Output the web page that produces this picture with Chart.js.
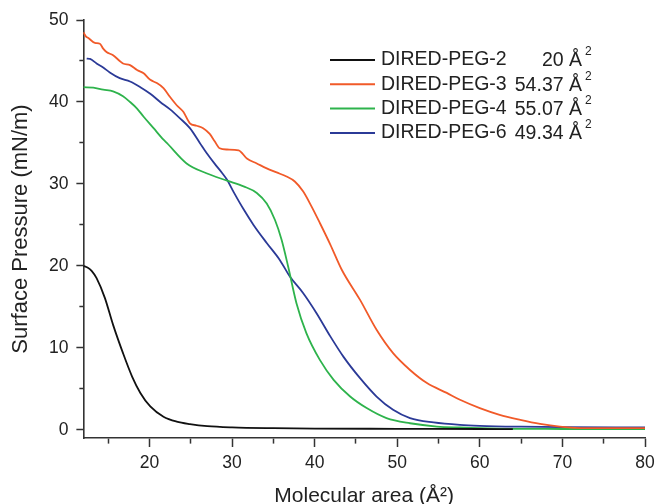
<!DOCTYPE html>
<html>
<head>
<meta charset="utf-8">
<script src="https://cdn.jsdelivr.net/npm/chart.js@4"></script>
<style>
  html, body { margin: 0; padding: 0; background: #fff; }
  #wrap { width: 657px; height: 504px; }
</style>
</head>
<body>
<div id="wrap"><canvas id="isotherm" width="657" height="504"></canvas></div>
<script>
// series names and limiting molecular areas shown in the legend
var seriesNames = ['DIRED-PEG-2', 'DIRED-PEG-3', 'DIRED-PEG-4', 'DIRED-PEG-6'];
var limitingAreas = ['20', '54.37', '55.07', '49.34'];

// molecular area (A^2) / surface pressure (mN/m)
var peg2Area = [12.0, 12.5, 13.0, 13.6, 14.6, 15.6, 16.8, 17.9, 18.9, 20.1, 21.7, 23.3, 24.9, 27, 30, 35, 40, 50, 60, 64];
var peg2Pressure = [20.0, 19.8, 19.4, 18.5, 16.1, 12.8, 9.35, 6.5, 4.5, 2.85, 1.6, 1.0, 0.7, 0.45, 0.3, 0.2, 0.15, 0.12, 0.1, 0.08];

var peg3Area = [12.0, 12.3, 12.6, 13.4, 14.0, 14.4, 14.8, 15.6, 16.4, 16.8, 17.65, 18.5, 19.3, 20.1, 20.9, 21.7, 22.5, 23.3, 24.1, 24.9,
  25.7, 26.5, 27.3, 27.9, 28.5, 29.4, 30.8, 31.8, 33.0, 34.2, 35.4, 36.6, 37.6, 38.6, 39.65, 40.65, 41.9, 43.3, 45.5, 47.5,
  49.5, 51.55, 53.6, 56.0, 57.6, 60.0, 62.4, 64.9, 67.3, 69.7, 72.9, 77.0, 80.0];
var peg3Pressure = [48.5, 48.0, 47.8, 47.2, 47.1, 46.5, 46.1, 45.7, 45.0, 44.7, 44.5, 43.9, 43.5, 42.7, 42.3, 41.7, 40.6, 39.6, 38.8, 37.4,
  37.1, 36.8, 36.1, 35.2, 34.35, 34.2, 34.1, 33.1, 32.5, 31.9, 31.4, 30.9, 30.3, 29.1, 27.2, 25.2, 22.6, 19.5, 15.85, 12.2,
  9.35, 7.3, 5.7, 4.5, 3.66, 2.65, 1.83, 1.22, 0.73, 0.4, 0.2, 0.2, 0.2];

var peg4Area = [12.0, 13.2, 14.4, 15.6, 16.8, 17.65, 18.5, 19.3, 20.5, 21.7, 22.1, 24.5, 26.9, 29.4, 31.4, 33.0, 34.2, 35.2, 36.0, 36.8,
  37.8, 39.0, 40.65, 42.3, 44.3, 46.3, 48.7, 51.55, 54.8, 57.6, 62, 70, 80];
var peg4Pressure = [41.8, 41.75, 41.5, 41.3, 40.7, 40.0, 39.2, 38.2, 36.8, 35.4, 35.0, 32.5, 31.3, 30.4, 29.7, 28.9, 27.6, 25.6, 23.2, 19.9,
  15.45, 11.8, 8.5, 6.1, 4.06, 2.65, 1.43, 0.8, 0.4, 0.28, 0.15, 0.1, 0.08];

var peg6Area = [12.4, 12.8, 13.6, 14.4, 15.2, 16.4, 17.65, 18.9, 20.1, 21.3, 22.5, 23.7, 24.9, 26.1, 26.9, 28.1, 28.75, 29.4, 30.2, 31.4,
  32.6, 34.2, 35.8, 37.0, 38.6, 40.25, 41.9, 43.5, 45.5, 47.5, 49.5, 51.55, 54.4, 57.6, 60, 65, 70, 80];
var peg6Pressure = [45.3, 45.25, 44.7, 44.2, 43.6, 42.9, 42.5, 41.8, 41.0, 40.0, 39.1, 38.0, 36.8, 35.0, 33.8, 32.2, 31.4, 30.5, 29.0, 26.9,
  25.0, 22.8, 20.7, 18.7, 16.7, 14.2, 11.4, 8.9, 6.3, 4.06, 2.44, 1.43, 0.9, 0.6, 0.49, 0.38, 0.32, 0.28];

// axis ticks (labels on every second one)
var xTicks = [15, 20, 25, 30, 35, 40, 45, 50, 55, 60, 65, 70, 75, 80];
var yTicks = [0, 5, 10, 15, 20, 25, 30, 35, 40, 45, 50];

var FONT = '"Liberation Sans", Arial, sans-serif';
var INK = '#222';
var AXIS = '#333';

function toPoints(xs, ys) {
  return xs.map(function (x, i) { return { x: x, y: ys[i] }; });
}

function isMajor(v) { return v % 10 === 0; }

// draws the legend box with the limiting areas in the upper right
var areaLegend = {
  id: 'areaLegend',
  afterDraw: function (chart) {
    var ctx = chart.ctx;
    var area = chart.chartArea;
    var x0 = area.right - 315;
    var valueRight = area.right - 63;
    chart.data.datasets.forEach(function (ds, i) {
      var y = area.top + 40 + i * 24.3;
      ctx.save();
      ctx.strokeStyle = ds.borderColor;
      ctx.lineWidth = 2;
      ctx.beginPath();
      ctx.moveTo(x0, y);
      ctx.lineTo(x0 + 45, y);
      ctx.stroke();
      ctx.fillStyle = INK;
      ctx.font = '19.5px ' + FONT;
      ctx.textBaseline = 'middle';
      ctx.textAlign = 'left';
      ctx.fillText(ds.label, x0 + 51, y);
      ctx.textAlign = 'right';
      ctx.fillText(limitingAreas[i] + ' \u00C5', valueRight, y + 1);
      ctx.font = '12px ' + FONT;
      ctx.textAlign = 'left';
      ctx.fillText('2', valueRight + 3, y - 8);
      ctx.restore();
    });
  }
};

var ctx = document.getElementById('isotherm');
var chart = new Chart(ctx, {
  type: 'line',
  data: {
    datasets: [
      { label: seriesNames[0], data: toPoints(peg2Area, peg2Pressure), borderColor: '#111111', borderWidth: 1.8 },
      { label: seriesNames[1], data: toPoints(peg3Area, peg3Pressure), borderColor: '#f15a29', borderWidth: 1.8 },
      { label: seriesNames[2], data: toPoints(peg4Area, peg4Pressure), borderColor: '#2eb34c', borderWidth: 1.8 },
      { label: seriesNames[3], data: toPoints(peg6Area, peg6Pressure), borderColor: '#2b3a97', borderWidth: 1.8 }
    ]
  },
  options: {
    responsive: false,
    animation: false,
    devicePixelRatio: 1,
    layout: { padding: { top: 20, right: 12, left: 0, bottom: 0 } },
    elements: {
      point: { radius: 0 },
      line: { cubicInterpolationMode: 'monotone', fill: false }
    },
    plugins: {
      legend: { display: false },
      tooltip: { enabled: false }
    },
    scales: {
      x: {
        type: 'linear',
        min: 12,
        max: 80,
        afterBuildTicks: function (scale) {
          scale.ticks = xTicks.map(function (v) { return { value: v }; });
        },
        afterFit: function (scale) {
          scale.paddingRight = 0;
        },
        ticks: {
          autoSkip: false,
          maxRotation: 0,
          padding: 6,
          color: INK,
          font: { family: FONT, size: 17.5 },
          callback: function (v) { return isMajor(v) ? v : ''; }
        },
        grid: {
          drawOnChartArea: false,
          drawTicks: true,
          tickLength: 9,
          tickColor: AXIS,
          tickWidth: 1.5,
          tickBorderDash: function (c) { return c.tick && !isMajor(c.tick.value) ? [5, 30] : []; }
        },
        border: { color: AXIS, width: 1.6 },
        title: {
          display: true,
          text: 'Molecular area (\u00C5\u00B2)',
          color: INK,
          font: { family: FONT, size: 21, lineHeight: 0.7 },
          padding: { top: 9.3, bottom: 0 }
        }
      },
      y: {
        min: -1,
        max: 50,
        afterBuildTicks: function (scale) {
          scale.ticks = yTicks.map(function (v) { return { value: v }; });
        },
        ticks: {
          autoSkip: false,
          padding: 8,
          color: INK,
          font: { family: FONT, size: 17.5 },
          callback: function (v) { return isMajor(v) ? v : ''; }
        },
        grid: {
          drawOnChartArea: false,
          drawTicks: true,
          tickLength: 7,
          tickColor: AXIS,
          tickWidth: 1.5,
          tickBorderDash: function (c) { return c.tick && !isMajor(c.tick.value) ? [0, 3, 4, 30] : []; }
        },
        border: { color: AXIS, width: 1.6 },
        title: {
          display: true,
          text: 'Surface Pressure (mN/m)',
          color: INK,
          font: { family: FONT, size: 22 },
          padding: { top: 8, bottom: 6.5 }
        }
      }
    }
  },
  plugins: [areaLegend]
});
</script>
</body>
</html>
